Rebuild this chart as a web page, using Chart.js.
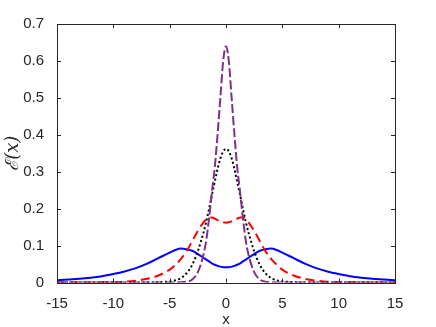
<!DOCTYPE html>
<html>
<head>
<meta charset="utf-8">
<script src="https://cdn.jsdelivr.net/npm/chart.js@4.4.1/dist/chart.umd.min.js"></script>
<style>
  body { margin: 0; background: #fff; }
  #wrap { width: 436px; height: 327px; }
</style>
</head>
<body>
<div id="wrap"><canvas id="energyChart" width="436" height="327"></canvas></div>
<script>
const xValues = [-15, -14, -13, -12, -11, -10, -9, -8, -7, -6, -5, -4.5, -4, -3.5, -3, -2.5, -2, -1.75, -1.5, -1.25, -1, -0.75, -0.5, -0.25,
    0, 0.25, 0.5, 0.75, 1, 1.25, 1.5, 1.75, 2, 2.5, 3, 3.5, 4, 4.5, 5, 6, 7, 8, 9, 10, 11, 12, 13, 14, 15];

const blueSolid = [0.006, 0.008, 0.010, 0.013, 0.017, 0.023, 0.030, 0.039, 0.051, 0.066, 0.081, 0.088, 0.092, 0.090, 0.086, 0.077, 0.067, 0.062, 0.057, 0.052, 0.048, 0.045, 0.043, 0.041,
    0.041, 0.041, 0.043, 0.045, 0.048, 0.052, 0.057, 0.062, 0.067, 0.077, 0.086, 0.090, 0.092, 0.088, 0.081, 0.066, 0.051, 0.039, 0.030, 0.023, 0.017, 0.013, 0.010, 0.008, 0.006];

const redDashed = [0, 0, 0, 0, 0.001, 0.001, 0.002, 0.005, 0.010, 0.019, 0.035, 0.048, 0.064, 0.085, 0.112, 0.140, 0.163, 0.171, 0.176, 0.176, 0.173, 0.169, 0.166, 0.163,
    0.162, 0.163, 0.166, 0.169, 0.173, 0.176, 0.176, 0.171, 0.163, 0.140, 0.112, 0.085, 0.064, 0.048, 0.035, 0.019, 0.010, 0.005, 0.002, 0.001, 0.001, 0, 0, 0, 0];

const blackDotted = [0, 0, 0, 0, 0, 0, 0, 0, 0, 0.001, 0.003, 0.006, 0.012, 0.025, 0.048, 0.085, 0.135, 0.165, 0.200, 0.237, 0.272, 0.307, 0.336, 0.355,
    0.362, 0.355, 0.336, 0.307, 0.272, 0.237, 0.200, 0.165, 0.135, 0.085, 0.048, 0.025, 0.012, 0.006, 0.003, 0.001, 0, 0, 0, 0, 0, 0, 0, 0, 0];

const purpleDashed = [0, 0, 0, 0, 0, 0, 0, 0, 0, 0, 0, 0, 0.001, 0.002, 0.008, 0.028, 0.075, 0.115, 0.175, 0.245, 0.310, 0.400, 0.500, 0.600,
    0.640, 0.600, 0.500, 0.400, 0.310, 0.245, 0.175, 0.115, 0.075, 0.028, 0.008, 0.002, 0.001, 0, 0, 0, 0, 0, 0, 0, 0, 0, 0, 0, 0];

const xTicks = [-15, -10, -5, 0, 5, 10, 15];
const yTicks = [0, 0.1, 0.2, 0.3, 0.4, 0.5, 0.6, 0.7];

const axisColor = '#262626';

function toPoints(values) {
    return xValues.map((x, i) => ({ x: x, y: values[i] }));
}

function lineSet(values, color, dash, order) {
    return {
        data: toPoints(values),
        borderColor: color,
        borderWidth: 2,
        borderDash: dash,
        borderCapStyle: 'butt',
        pointRadius: 0,
        fill: false,
        cubicInterpolationMode: 'monotone',
        order: order
    };
}

// box round the plot with inward ticks on all four sides
const framePlugin = {
    id: 'frame',
    afterDraw(chart) {
        const { ctx, chartArea: a, scales } = chart;
        ctx.save();
        ctx.strokeStyle = axisColor;
        ctx.lineWidth = 1;
        ctx.beginPath();
        xTicks.forEach(v => {
            const px = Math.round(scales.x.getPixelForValue(v)) + 0.5;
            ctx.moveTo(px, a.bottom); ctx.lineTo(px, a.bottom - 4);
            ctx.moveTo(px, a.top); ctx.lineTo(px, a.top + 4);
        });
        yTicks.forEach(v => {
            const py = Math.round(scales.y.getPixelForValue(v)) + 0.5;
            ctx.moveTo(a.left, py); ctx.lineTo(a.left + 4, py);
            ctx.moveTo(a.right, py); ctx.lineTo(a.right - 4, py);
        });
        ctx.stroke();
        ctx.strokeRect(Math.round(a.left) + 0.5, Math.round(a.top) + 0.5, Math.round(a.width), Math.round(a.height));
        ctx.restore();
    }
};

const tickFont = { family: "'Liberation Sans', Arial, sans-serif", size: 15 };

new Chart(document.getElementById('energyChart').getContext('2d'), {
    type: 'line',
    data: {
        datasets: [
            lineSet(blueSolid, '#0000FF', [], 4),
            lineSet(redDashed, '#FF0000', [9, 5], 3),
            lineSet(blackDotted, '#000000', [2, 2.5], 2),
            lineSet(purpleDashed, '#7E2F8E', [9, 3], 1)
        ]
    },
    options: {
        responsive: false,
        animation: false,
        layout: { padding: { left: 0, right: 41, top: 24, bottom: 0 } },
        plugins: { legend: { display: false }, tooltip: { enabled: false } },
        scales: {
            x: {
                type: 'linear',
                min: -15,
                max: 15,
                afterBuildTicks: s => { s.ticks = xTicks.map(v => ({ value: v })); },
                afterFit: s => { s.height = 44.5; },
                grid: { display: false },
                border: { display: false },
                ticks: { color: axisColor, font: tickFont, padding: 4, maxRotation: 0 },
                title: { display: true, text: 'x', color: axisColor, font: { family: tickFont.family, size: 15, lineHeight: 1 }, padding: { top: 0, bottom: 0 } }
            },
            y: {
                type: 'linear',
                min: 0,
                max: 0.7,
                afterBuildTicks: s => { s.ticks = yTicks.map(v => ({ value: v })); },
                afterFit: s => { s.width = 57; },
                grid: { display: false },
                border: { display: false },
                ticks: { color: axisColor, font: tickFont, padding: 5, callback: v => String(Math.round(v * 10) / 10) },
                title: { display: true, text: 'ℰ(x)', color: axisColor, font: { family: "'DejaVu Serif', serif", size: 18, style: 'italic' }, padding: { top: 3, bottom: 0 } }
            }
        }
    },
    plugins: [framePlugin]
});
</script>
</body>
</html>
